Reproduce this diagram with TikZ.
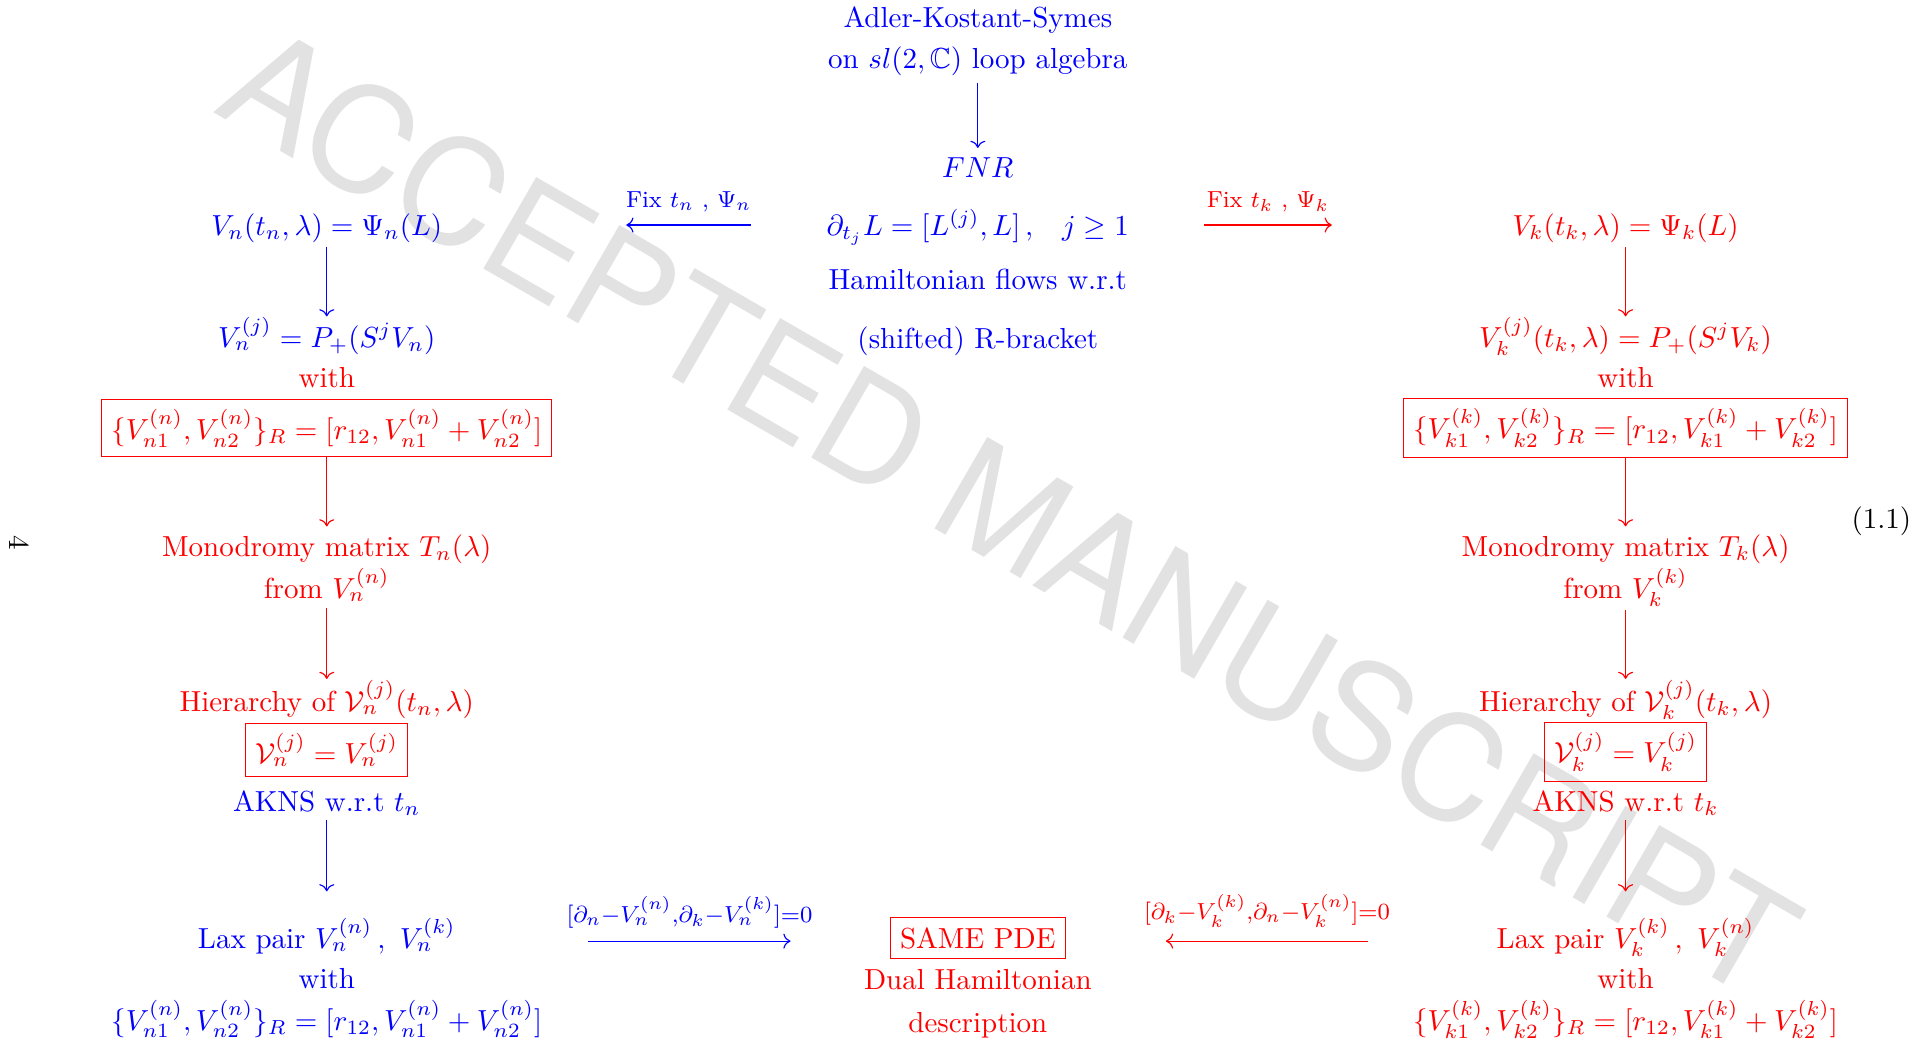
\documentclass[tikz,border=0pt]{standalone}
\usepackage{amssymb}
\usepackage{fontspec}
\newfontfamily\wmfont{TeX Gyre Heros}
\usetikzlibrary{arrows.meta,positioning}
\definecolor{akblue}{RGB}{0,0,255}
\definecolor{akred}{RGB}{255,0,0}
\definecolor{wmgray}{RGB}{226,226,226}
\tikzset{
    txt/.style={anchor=base,text=#1},
    txt/.default=akblue,
    boxed/.style={draw=#1,text=#1},
    boxed/.default=akred,
    flow/.style={-{To},draw=#1},
    flow/.default=akblue,
    tag/.style={above=1pt,text=#1,font=\footnotesize},
    tag/.default=akblue
}

\begin{document}
\begin{tikzpicture}
\useasboundingbox (0,0) rectangle (23.28,-12.665);

% watermark and page marks
\node[rotate=-30,text=wmgray,font=\wmfont\fontsize{50}{60}\selectfont]
(wmark) at (12.24,-6.2) {ACCEPTED MANUSCRIPT};
\node[rotate=-90] (pageno) at (0.24,-6.58) {4};
\node[anchor=base] (eqno) at (22.80,-6.40) {(1.1)};

% middle column
\node[txt] (aks) at (11.85,-0.339) {Adler-Kostant-Symes};
\node[txt] (loop) at (11.85,-0.836) {on $sl(2,\mathbb{C})$ loop algebra};
\node[txt] (fnr) at (11.85,-2.157) {$FNR$};
\node[txt] (lflow) at (11.85,-2.848) {$\partial_{t_j}L=[L^{(j)},L]\,,\;\;\;j\geq 1$};
\node[txt] (ham) at (11.85,-3.503) {Hamiltonian flows w.r.t};
\node[txt] (rbr) at (11.85,-4.218) {(shifted) R-bracket};
\node[boxed] (pde) at (11.85,-11.369) {SAME PDE};
\node[txt=akred] (dual) at (11.85,-11.987) {Dual Hamiltonian};
\node[txt=akred] (desc) at (11.85,-12.508) {description};

% left column (t_n)
\node[txt] (vn) at (3.96,-2.848) {$V_n(t_n,\lambda)=\Psi_n(L)$};
\node[txt] (vnj) at (3.96,-4.206) {$V_n^{(j)}=P_+(S^jV_n)$};
\node[txt=akred] (withn) at (3.96,-4.690) {with};
\node[boxed] (brn) at (3.96,-5.187) {$\{V_{n1}^{(n)},V_{n2}^{(n)}\}_R=[r_{12},V_{n1}^{(n)}+V_{n2}^{(n)}]$};
\node[txt=akred] (monon) at (3.96,-6.739) {Monodromy matrix $T_n(\lambda)$};
\node[txt=akred] (fromn) at (3.96,-7.248) {from $V_n^{(n)}$};
\node[txt=akred] (hiern) at (3.96,-8.617) {Hierarchy of $\mathcal{V}_n^{(j)}(t_n,\lambda)$};
\node[boxed] (vvn) at (3.96,-9.090) {$\mathcal{V}_n^{(j)}=V_n^{(j)}$};
\node[txt] (aknsn) at (3.96,-9.829) {AKNS w.r.t $t_n$};
\node[txt] (laxn) at (3.96,-11.490) {Lax pair $V_n^{(n)}\,,\ V_n^{(k)}$};
\node[txt] (withnb) at (3.96,-11.975) {with};
\node[txt] (brnb) at (3.96,-12.484) {$\{V_{n1}^{(n)},V_{n2}^{(n)}\}_R=[r_{12},V_{n1}^{(n)}+V_{n2}^{(n)}]$};

% right column (t_k)
\node[txt=akred] (vk) at (19.70,-2.848) {$V_k(t_k,\lambda)=\Psi_k(L)$};
\node[txt=akred] (vkj) at (19.70,-4.206) {$V_k^{(j)}(t_k,\lambda)=P_+(S^jV_k)$};
\node[txt=akred] (withk) at (19.70,-4.690) {with};
\node[boxed] (brk) at (19.70,-5.187) {$\{V_{k1}^{(k)},V_{k2}^{(k)}\}_R=[r_{12},V_{k1}^{(k)}+V_{k2}^{(k)}]$};
\node[txt=akred] (monok) at (19.70,-6.739) {Monodromy matrix $T_k(\lambda)$};
\node[txt=akred] (fromk) at (19.70,-7.248) {from $V_k^{(k)}$};
\node[txt=akred] (hierk) at (19.70,-8.617) {Hierarchy of $\mathcal{V}_k^{(j)}(t_k,\lambda)$};
\node[boxed] (vvk) at (19.70,-9.114) {$\mathcal{V}_k^{(j)}=V_k^{(j)}$};
\node[txt=akred] (aknsk) at (19.70,-9.829) {AKNS w.r.t $t_k$};
\node[txt=akred] (laxk) at (19.70,-11.490) {Lax pair $V_k^{(k)}\,,\ V_k^{(n)}$};
\node[txt=akred] (withkb) at (19.70,-11.975) {with};
\node[txt=akred] (brkb) at (19.70,-12.484) {$\{V_{k1}^{(k)},V_{k2}^{(k)}\}_R=[r_{12},V_{k1}^{(k)}+V_{k2}^{(k)}]$};

% vertical arrows
\draw[flow,shorten <=-1.3pt] (loop) -- (fnr);
\draw[flow,shorten <=-2pt,shorten >=-3.4pt] (vn) -- (vnj);
\draw[flow=akred,shorten >=-0.8pt] (brn) -- (monon);
\draw[flow=akred,shorten <=-1.3pt,shorten >=-2.9pt] (fromn) -- (hiern);
\draw[flow,shorten <=-2.1pt,shorten >=5.6pt] (aknsn) -- (laxn);
\draw[flow=akred,shorten <=-2pt,shorten >=-3.4pt] (vk) -- (vkj);
\draw[flow=akred,shorten >=-0.8pt] (brk) -- (monok);
\draw[flow=akred,shorten <=-2.5pt,shorten >=-2.9pt] (fromk) -- (hierk);
\draw[flow=akred,shorten <=-2.1pt,shorten >=5.6pt] (aknsk) -- (laxk);

% horizontal arrows
\coordinate (fixnA) at (9.10,-2.727);
\coordinate (fixnB) at (7.59,-2.727);
\coordinate (fixkA) at (14.59,-2.727);
\coordinate (fixkB) at (16.14,-2.727);
\coordinate (zcnA) at (7.13,-11.405);
\coordinate (zcnB) at (9.58,-11.405);
\coordinate (zckA) at (16.58,-11.405);
\coordinate (zckB) at (14.13,-11.405);
\draw[flow] (fixnA) -- (fixnB) node[midway,tag]{Fix $t_n$ , $\Psi_n$};
\draw[flow=akred] (fixkA) -- (fixkB) node[midway,tag=akred]{Fix $t_k$ , $\Psi_k$};
\draw[flow] (zcnA) -- (zcnB)
    node[midway,tag]{$[\partial_n{-}V_n^{(n)}{,}\partial_k{-}V_n^{(k)}]{=}0$};
\draw[flow=akred] (zckA) -- (zckB)
    node[midway,tag=akred]{$[\partial_k{-}V_k^{(k)}{,}\partial_n{-}V_k^{(n)}]{=}0$};

\end{tikzpicture}
\end{document}
